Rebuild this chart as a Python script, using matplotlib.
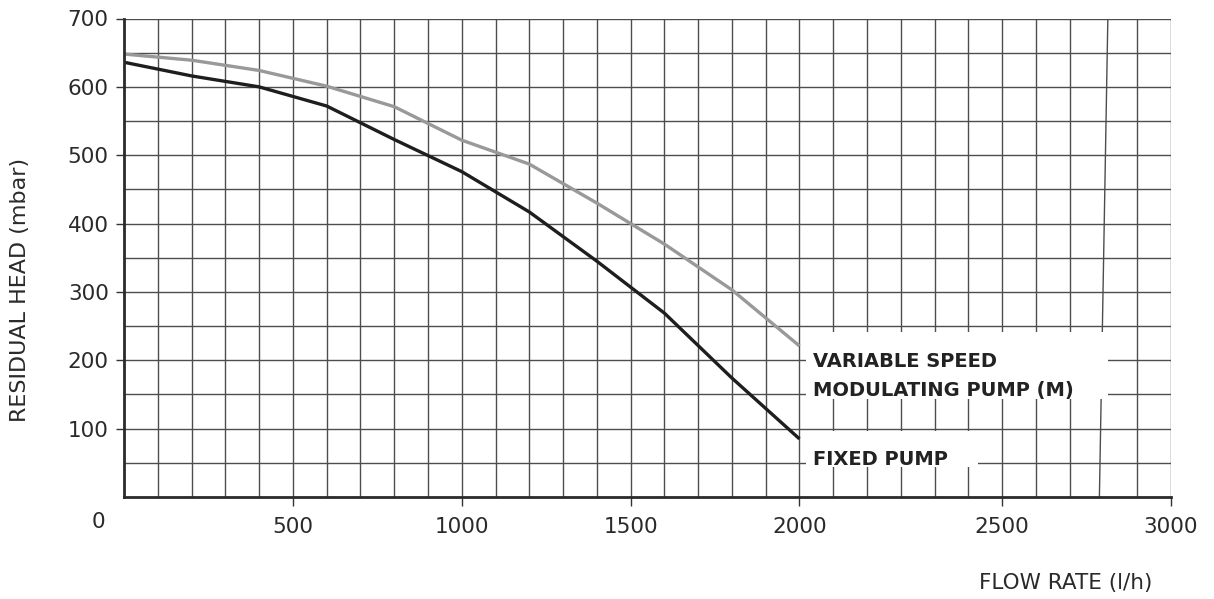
import matplotlib
matplotlib.use("Agg")
import matplotlib.pyplot as plt
from matplotlib.patches import Rectangle

# ---- data ----
flow = [0, 200, 400, 600, 800, 1000, 1200, 1400, 1600, 1800, 2000]
fixed_pump = [636, 616, 600, 572, 523, 476, 417, 345, 269, 174, 85]
variable_pump = [648, 639, 624, 601, 571, 522, 487, 430, 370, 303, 221]
xtick_pos = [500, 1000, 1500, 2000, 2600, 3100]
xtick_labels = ["500", "1000", "1500", "2000", "2500", "3000"]
ytick_pos = [100, 200, 300, 400, 500, 600, 700]
ytick_labels = ["100", "200", "300", "400", "500", "600", "700"]
label_variable = ["VARIABLE SPEED", "MODULATING PUMP (M)"]
label_fixed = "FIXED PUMP"
xlabel = "FLOW RATE (l/h)"
ylabel = "RESIDUAL HEAD (mbar)"

W, H = 1214, 599
fig = plt.figure(figsize=(W / 100, H / 100), dpi=100)
plt.rcParams['font.family'] = ['DejaVu Sans']
ax_l, ax_r, ax_t, ax_b = 124, 1171, 18.5, 497
ax = fig.add_axes([ax_l / W, 1 - ax_b / H, (ax_r - ax_l) / W, (ax_b - ax_t) / H])
ax.set_xlim(0, 3100)
ax.set_ylim(0, 700)

grid_c = '#4d4d4d'
grid_lw = 1.0
# vertical grid lines every 100 (2900 drawn slanted, as in the original)
for xv in range(100, 3101, 100):
    if xv == 2900:
        continue
    ax.axvline(xv, color=grid_c, lw=grid_lw, zorder=1)
ax.plot([2913, 2888], [700, 0], color=grid_c, lw=grid_lw, zorder=1)
for yv in range(50, 701, 50):
    ax.axhline(yv, color=grid_c, lw=grid_lw, zorder=1)

ax.plot(flow, variable_pump, color='#999999', lw=2.4, zorder=3, solid_capstyle='butt')
ax.plot(flow, fixed_pump, color='#1e1e1e', lw=2.4, zorder=4, solid_capstyle='butt')

# white label boxes
ax.add_patch(Rectangle((2019, 143.5), 2914 - 2019, 241.6 - 143.5, facecolor='white',
                       edgecolor='none', zorder=5))
ax.add_patch(Rectangle((2019, 44), 2529 - 2019, 96.6 - 44, facecolor='white',
                       edgecolor='none', zorder=5))
txt_kw = dict(fontsize=14, fontweight='bold', color='#222222', ha='left', va='baseline', zorder=6)
ax.text(2039, 190.6, label_variable[0], **txt_kw)
ax.text(2039, 147.9, label_variable[1], **txt_kw)
ax.text(2039, 46.9, label_fixed, **txt_kw)

for s in ['top', 'right']:
    ax.spines[s].set_visible(False)
for s in ['left', 'bottom']:
    ax.spines[s].set_linewidth(2.0)
    ax.spines[s].set_color('#2a2a2a')
    ax.spines[s].set_zorder(7)

ax.set_xticks(xtick_pos)
ax.set_xticklabels(xtick_labels)
ax.set_yticks(ytick_pos)
ax.set_yticklabels(ytick_labels)
ax.tick_params(axis='x', length=6.5, width=1.0, color='#333333', pad=8, labelsize=15.5, labelcolor='#2a2a2a')
ax.tick_params(axis='y', length=6, width=1.0, color='#333333', pad=5, labelsize=15.5, labelcolor='#2a2a2a')

fig.text(98 / W, 1 - 522 / H, "0", fontsize=15.5, color='#2a2a2a', ha='center', va='center')
fig.text(1066 / W, 1 - 583 / H, xlabel, fontsize=15.5, color='#2a2a2a', ha='center', va='center')
fig.text(20 / W, 1 - 290 / H, ylabel, fontsize=16, color='#2a2a2a', ha='center', va='center', rotation=90)

fig.savefig("out.png", dpi=100, facecolor='white')
